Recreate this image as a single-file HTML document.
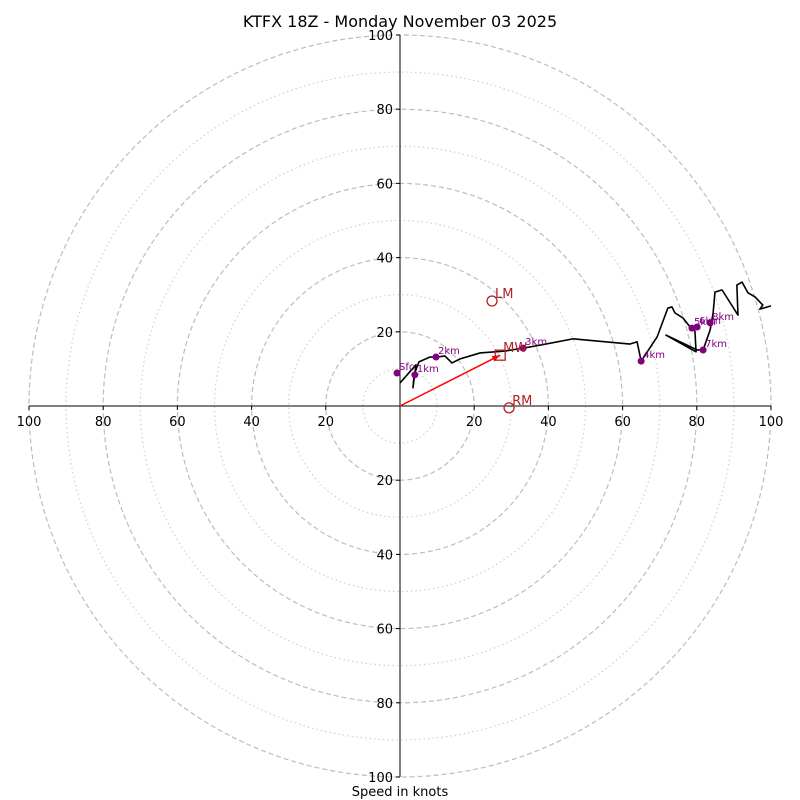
<!DOCTYPE html>
<html><head><meta charset="utf-8"><style>
body{margin:0;background:#fff}
svg{display:block;font-family:"DejaVu Sans","Liberation Sans",sans-serif}
</style></head><body>
<svg id="c" width="800" height="800"></svg>
<script>
const ringsMajor=[20,40,60,80,100];
const ringsMinor=[10,30,50,70,90];
const tickLabels=[20,40,60,80,100];
const traceU=[0,4.3,3.5,3.8,5.1,8.1,10.0,12.1,14.0,16.2,21.6,28.3,33.2,37.7,46.6,62.0,63.9,65.0,69.3,72.2,73.3,74.1,76.3,78.2,79.5,79.8,71.7,80.1,81.7,83.6,84.4,84.9,86.8,91.1,90.8,92.2,93.8,95.7,97.8,97.0,100];
const traceV=[6.2,11.1,4.9,8.4,11.9,13.2,13.2,13.5,11.6,12.7,14.3,14.8,15.6,16.4,18.1,16.7,17.3,12.1,18.6,26.4,26.7,25.1,23.7,21.3,20.2,14.6,19.1,15.1,15.1,20.5,25.1,30.7,31.3,24.5,32.6,33.4,30.5,29.4,27.2,26.1,27.0];
const levelNames=["Sfc","1km","2km","3km","4km","5km","6km","7km","8km"];
const levelU=[-0.8,4.0,9.7,33.2,65.0,78.7,80.1,81.7,83.6];
const levelV=[8.9,8.4,13.2,15.6,12.1,21.0,21.3,15.1,22.4];
const motionNames=["MW","LM","RM"];
const motionU=[27.0,24.8,29.4];
const motionV=[13.7,28.3,-0.5];

const cx=400,cy=406,k=3.71;
const X=u=>cx+u*k, Y=v=>cy-v*k;
const svg=document.getElementById('c');
const NS='http://www.w3.org/2000/svg';
function mk(t,a,p){const e=document.createElementNS(NS,t);for(const q in a)e.setAttribute(q,a[q]);(p||svg).appendChild(e);return e;}

ringsMinor.forEach(r=>{const e=mk('circle',{cx:cx,cy:cy,r:r*k,fill:'none',stroke:'#d0d0d0','stroke-width':1.2,'stroke-dasharray':'1.5,3'});

});
ringsMajor.forEach(r=>{const e=mk('circle',{cx:cx,cy:cy,r:r*k,fill:'none',stroke:'#bdbdbd','stroke-width':1.2,'stroke-dasharray':'5,3'});

});

const ax=mk('line',{x1:X(-100),y1:cy,x2:X(100),y2:cy,stroke:'#000','stroke-width':1});


const ay=mk('line',{x1:cx,y1:Y(100),x2:cx,y2:Y(-100),stroke:'#000','stroke-width':1});



tickLabels.forEach(t=>{
 [-1,1].forEach(s=>{
  mk('line',{x1:X(s*t),y1:cy,x2:X(s*t),y2:cy+4,stroke:'#000'});
  const tx=mk('text',{x:X(s*t),y:cy+20,'font-size':13,'text-anchor':'middle'});tx.textContent=t;
  
  
  mk('line',{x1:cx-4,y1:Y(s*t),x2:cx,y2:Y(s*t),stroke:'#000'});
  const ty=mk('text',{x:cx-7,y:Y(s*t)+5,'font-size':13,'text-anchor':'end'});ty.textContent=t;
  
  
 });
});

const arr=mk('line',{x1:X(0),y1:Y(0),x2:X(motionU[0]),y2:Y(motionV[0]),stroke:'#f00','stroke-width':1.5});


const ang=Math.atan2(Y(motionV[0])-Y(0),X(motionU[0])-X(0));
const hx=X(motionU[0]),hy=Y(motionV[0]);
mk('polygon',{points:`${hx},${hy} ${hx-8*Math.cos(ang)+3*Math.sin(ang)},${hy-8*Math.sin(ang)-3*Math.cos(ang)} ${hx-8*Math.cos(ang)-3*Math.sin(ang)},${hy-8*Math.sin(ang)+3*Math.cos(ang)}`,fill:'#f00'});

const pts=traceU.map((u,i)=>X(u)+','+Y(traceV[i])).join(' ');
const pl=mk('polyline',{points:pts,fill:'none',stroke:'#000','stroke-width':1.6,'stroke-linejoin':'round'});



levelNames.forEach((n,i)=>{
 const c=mk('circle',{cx:X(levelU[i]),cy:Y(levelV[i]),r:3.5,fill:'#800080'});
 
 
 const t=mk('text',{x:X(levelU[i])+2,y:Y(levelV[i])-3,'font-size':10,fill:'#800080'});t.textContent=n;
 
 
});

motionNames.forEach((n,i)=>{
 const x=X(motionU[i]),y=Y(motionV[i]);
 let m;
 if(n==='MW')m=mk('rect',{x:x-5,y:y-5,width:10,height:10,fill:'none',stroke:'#b22222','stroke-width':1.3});
 else m=mk('circle',{cx:x,cy:y,r:5,fill:'none',stroke:'#b22222','stroke-width':1.3});
 
 
 const t=mk('text',{x:x+3,y:y-3,'font-size':13,fill:'#b22222'});t.textContent=n;
 
 
});

const ti=mk('text',{x:400,y:27,'font-size':16,'text-anchor':'middle'});ti.textContent='KTFX 18Z - Monday November 03 2025';


const xl=mk('text',{x:400,y:796,'font-size':13,'text-anchor':'middle'});xl.textContent='Speed in knots';


</script>
</body></html>
